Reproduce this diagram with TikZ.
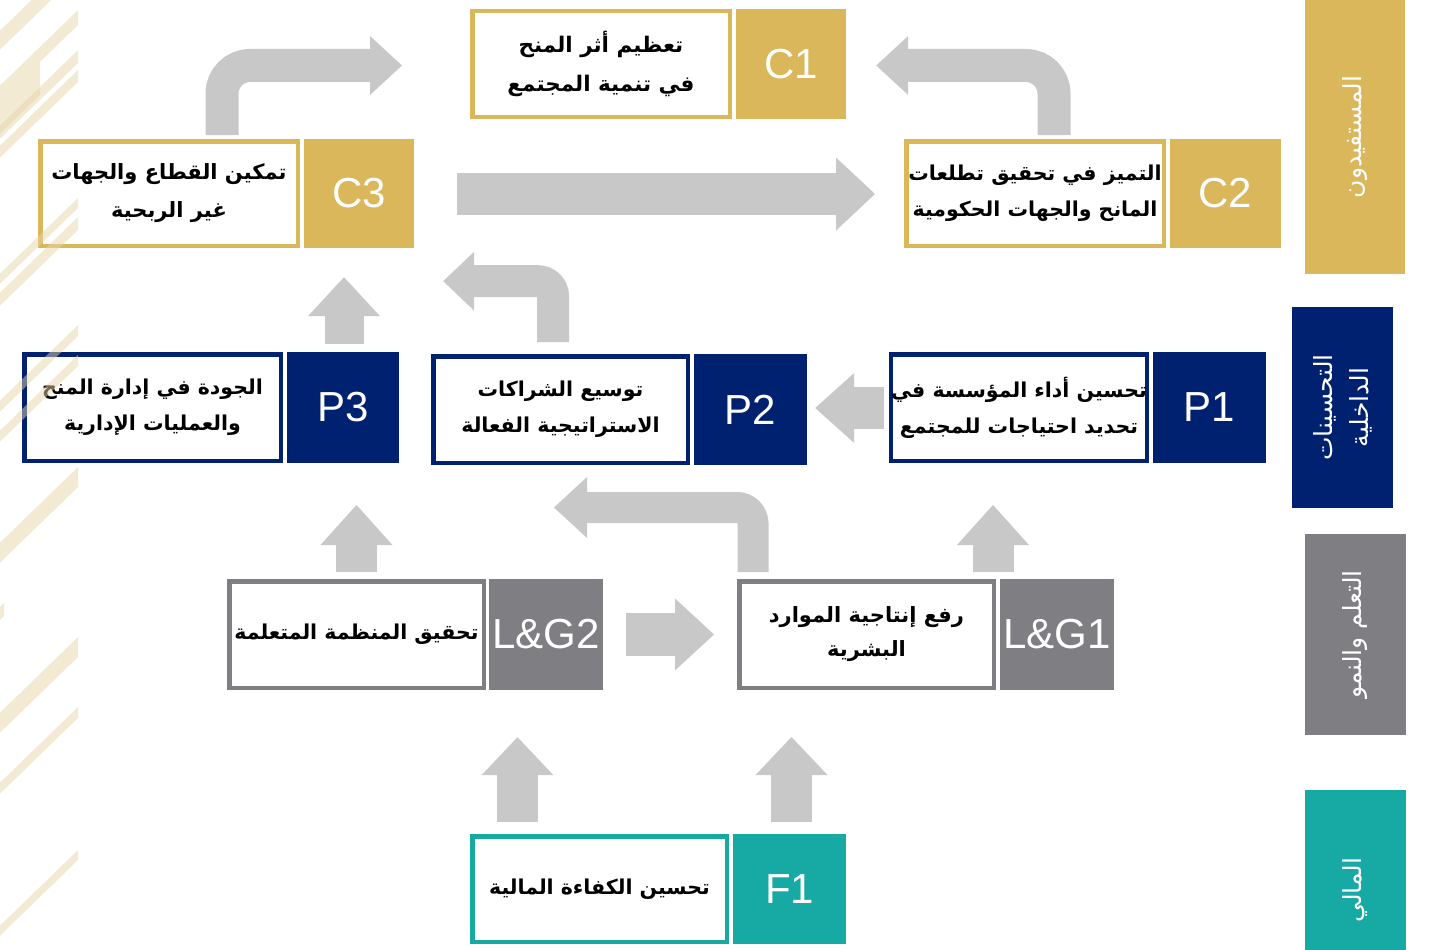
\documentclass[tikz,border=0pt]{standalone}
\usepackage{fontspec}
\setmainfont{Liberation Sans}
\newfontfamily\arabicfont[Script=Arabic]{DejaVu Sans}
\newfontfamily\arabicbold[Script=Arabic]{DejaVu Sans Bold}
\TeXXeTstate=1
\usetikzlibrary{calc,arrows.meta}
\definecolor{gold}{HTML}{DBB75C}
\definecolor{navy}{HTML}{002070}
\definecolor{lggray}{HTML}{7F7E83}
\definecolor{tealc}{HTML}{17A9A3}
\definecolor{arrgray}{HTML}{C8C8C8}
\definecolor{stripec}{RGB}{231,213,167}
\newcommand{\ar}[1]{{\arabicfont\beginR #1\endR}}
\newcommand{\arb}[1]{{\arabicbold\beginR #1\endR}}
\begin{document}
\begin{tikzpicture}[x=1pt,y=-1pt,
  tbox/.style={draw=#1, line width=4.5pt, inner sep=0pt, minimum width=255.5pt,
    minimum height=106.5pt, align=center, text=black, font=\fontsize{20.5}{36}\selectfont},
  lbox/.style={fill=#1, inner sep=0pt, text=white, font=\fontsize{42}{42}\selectfont},
  sbox/.style={fill=#1, inner sep=0pt, rotate=90, text=white, align=center,
    font=\fontsize{25}{36}\selectfont},
  arr/.style={draw=arrgray, line cap=butt},
  stripe/.style={fill=stripec, opacity=0.5}]
\useasboundingbox (0,0) rectangle (1433,950);

% ---- objective boxes
\node[tbox=gold, minimum width=257.5pt, minimum height=105.5pt, font=\fontsize{21.5}{39}\selectfont] (c1t) at (601,64)
  {\arb{تعظيم أثر المنح}\\\arb{في تنمية المجتمع}};
\node[lbox=gold, minimum width=110pt, minimum height=110pt] (c1l) at (791,64) {C1};
\node[tbox=gold, minimum width=257.5pt, minimum height=104.5pt, font=\fontsize{21}{38}\selectfont] (c3t) at (169,193.5)
  {\arb{تمكين القطاع والجهات}\\\arb{غير الربحية}};
\node[lbox=gold, minimum width=110pt, minimum height=109pt] (c3l) at (359,193.5) {C3};
\node[tbox=gold, minimum width=257.5pt, minimum height=104.5pt] (c2t) at (1035,193.5)
  {\arb{التميز في تحقيق تطلعات}\\\arb{المانح والجهات الحكومية}};
\node[lbox=gold, minimum width=111pt, minimum height=109pt] (c2l) at (1225.5,193.5) {C2};

\node[tbox=navy, minimum width=256.5pt] (p3t) at (152.5,407.5)
  {\arb{الجودة في إدارة المنح}\\\arb{والعمليات الإدارية}};
\node[lbox=navy, minimum width=112pt, minimum height=111pt] (p3l) at (343,407.5) {P3};
\node[tbox=navy, minimum width=254.5pt] (p2t) at (560.5,409.5)
  {\arb{توسيع الشراكات}\\\arb{الاستراتيجية الفعالة}};
\node[lbox=navy, minimum width=113pt, minimum height=111pt] (p2l) at (750.5,409.5) {P2};
\node[tbox=navy, minimum width=255.5pt] (p1t) at (1019,407.5)
  {\arb{تحسين أداء المؤسسة في}\\\arb{تحديد احتياجات للمجتمع}};
\node[lbox=navy, minimum width=113pt, minimum height=111pt] (p1l) at (1209.5,407.5) {P1};

\node[tbox=lggray, minimum width=254.5pt] (l2t) at (356.5,634.5)
  {\arb{تحقيق المنظمة المتعلمة}};
\node[lbox=lggray, minimum width=114pt, minimum height=111pt] (l2l) at (546,634.5) {L\&G2};
\node[tbox=lggray, minimum width=254.5pt, font=\fontsize{21}{34}\selectfont] (l1t) at (866.5,634.5)
  {\arb{رفع إنتاجية الموارد}\\\arb{البشرية}};
\node[lbox=lggray, minimum width=114pt, minimum height=111pt] (l1l) at (1057,634.5) {L\&G1};

\node[tbox=tealc, minimum width=254.5pt, minimum height=105.5pt] (f1t) at (599.5,889)
  {\arb{تحسين الكفاءة المالية}};
\node[lbox=tealc, minimum width=113pt, minimum height=110pt] (f1l) at (789.5,889) {F1};

% ---- perspective labels
\node[sbox=gold, minimum width=274pt, minimum height=100pt] (s1) at (1355,137) {\ar{المستفيدون}};
\node[sbox=navy, minimum width=201pt, minimum height=101pt] (s2) at (1342.5,407.5)
  {\ar{التحسينات}\\\ar{الداخلية}};
\node[sbox=lggray, minimum width=201pt, minimum height=101pt] (s3) at (1355.5,634.5) {\ar{التعلم والنمو}};
\node[sbox=tealc, minimum width=201pt, minimum height=101pt] (s4) at (1355.5,890) {\ar{المالي}};

% ---- arrows
\draw[arr, line width=33pt, rounded corners=28pt, -{Triangle[width=59pt,length=32pt,line width=0pt]}]
  ($(c3t.north west)+(184,-4)$) |- ($(c1t.west)+(-68,1.5)$);
\draw[arr, line width=33pt, rounded corners=28pt, -{Triangle[width=59pt,length=32pt,line width=0pt]}]
  ($(c2t.north west)+(150,-4)$) |- ($(c1l.east)+(30,1.5)$);
\draw[arr, line width=42pt, -{Triangle[width=73pt,length=39pt,line width=0pt]}]
  ($(c3l.east)+(43,0.5)$) -- ($(c2t.west)+(-29,0.5)$);
\draw[arr, line width=39pt, -{Triangle[width=72pt,length=39pt,line width=0pt]}]
  ($(p3l.north)+(1,-8)$) -- ($(c3l.south)+(-15,29)$);
\draw[arr, line width=32pt, rounded corners=15pt, -{Triangle[width=59pt,length=31pt,line width=0pt]}]
  ($(p2t.north)+(-7.5,-12)$) |- ($(c3l.south east)+(29,33)$);
\draw[arr, line width=42pt, -{Triangle[width=70pt,length=39pt,line width=0pt]}]
  ($(p1t.west)+(-5,0.5)$) -- ($(p2l.east)+(8,-1.5)$);
\draw[arr, line width=41pt, -{Triangle[width=72pt,length=40pt,line width=0pt]}]
  ($(l2t.north)+(0,-7)$) -- ($(p3t.south)+(204,42)$);
\draw[arr, line width=41pt, -{Triangle[width=72pt,length=40pt,line width=0pt]}]
  ($(l1t.north east)+(-3,-7)$) -- ($(p1t.south)+(-26,42)$);
\draw[arr, line width=31pt, rounded corners=16pt, -{Triangle[width=61pt,length=33pt,line width=0pt]}]
  ($(l1t.north west)+(16,-7)$) |- ($(p2t.south)+(-6.5,42.5)$);
\draw[arr, line width=43pt, -{Triangle[width=72pt,length=39pt,line width=0pt]}]
  ($(l2l.east)+(23,0)$) -- ($(l1t.west)+(-23,0)$);
\draw[arr, line width=41pt, -{Triangle[width=72pt,length=38pt,line width=0pt]}]
  ($(f1t.north west)+(47.5,-12)$) -- ($(l2l.south)+(-28.5,47)$);
\draw[arr, line width=41pt, -{Triangle[width=72pt,length=38pt,line width=0pt]}]
  ($(f1l.north)+(2,-12)$) -- ($(l1t.south west)+(54.5,47)$);

% ---- decorative stripes
\begin{scope}
  \clip (0,0) rectangle (78,950);
  \foreach \xr/\yt/\yb in {78/-45/-26, 78/10/25, 40/62/95, 78/50/63, 78/70/82,
      78/198/208, 78/217/230, 78/325/336, 78/355/366, 78/467/487, 4/603/616,
      78/637/657, 78/707/718, 78/850/860}
    \fill[stripe] (\xr,\yt) -- (\xr,\yb) -- (\xr-200,\yb+194) -- (\xr-200,\yt+194) -- cycle;
\end{scope}
\end{tikzpicture}
\end{document}
